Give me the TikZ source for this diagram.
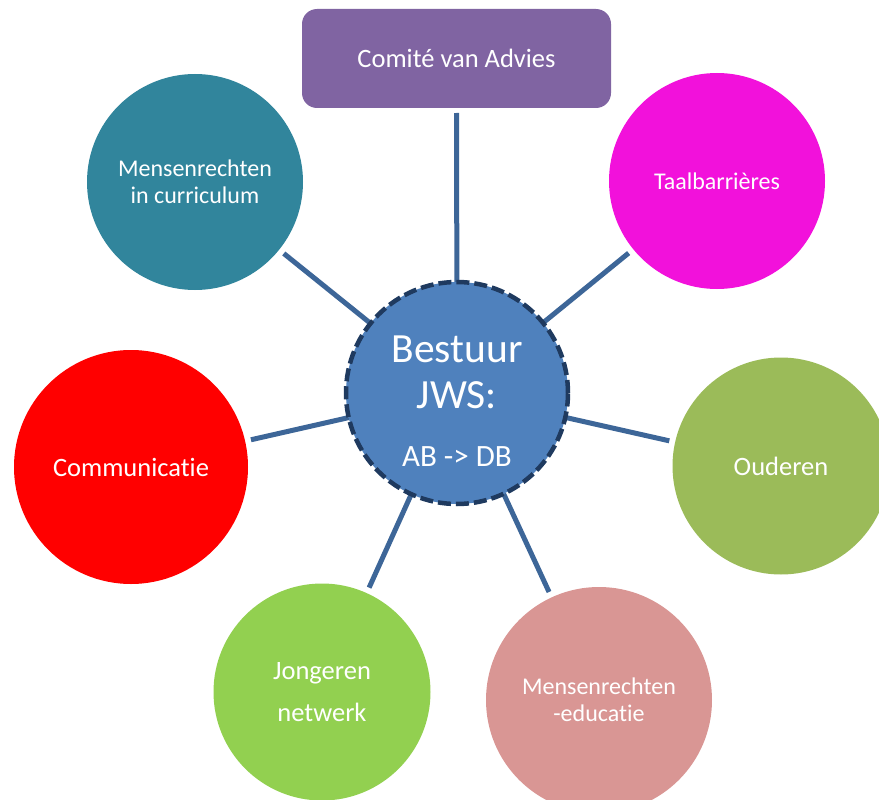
\documentclass[tikz,border=0pt]{standalone}
\usepackage{fontspec}
\setmainfont{Carlito}[Ligatures={NoCommon,NoRare,NoContextual}]
\usetikzlibrary{backgrounds}
\definecolor{comitec}{HTML}{8064A2}
\definecolor{curc}{HTML}{31859C}
\definecolor{taalc}{HTML}{F211DB}
\definecolor{commc}{HTML}{FF0000}
\definecolor{oudc}{HTML}{9BBB59}
\definecolor{jongc}{HTML}{92D050}
\definecolor{educ}{HTML}{D99694}
\definecolor{centc}{HTML}{4F81BD}
\definecolor{bordc}{HTML}{1F3A5F}
\definecolor{connc}{HTML}{3D6698}
\begin{document}
\begin{tikzpicture}[x=1pt,y=-1pt,
  sat/.style={circle,inner sep=0pt,outer sep=0pt,text=white,align=center},
  smallfont/.style={font=\fontsize{24}{27}\selectfont},
  bigfont/.style={font=\fontsize{26.5}{30}\selectfont},
  conn/.style={draw=connc,line width=5pt,shorten >=6pt},
  ctext/.style={anchor=base,text=white,inner sep=0pt}]
\useasboundingbox (0,0) rectangle (879,800);
\clip (0,0) rectangle (879,800);

\node[fill=comitec,rounded corners=15pt,minimum width=309pt,minimum height=99pt,
  outer sep=0pt,inner sep=0pt,text=white,font=\fontsize{26.5}{30}\selectfont]
  (adv) at (456.5,58.5) {Comité van Advies};

\node[sat,smallfont,fill=curc,minimum size=216pt] (cur) at (195,182) {Mensenrechten\\in curriculum};
\node[sat,smallfont,fill=taalc,minimum size=216pt] (taal) at (717,181) {Taalbarrières};
\node[sat,bigfont,fill=commc,minimum size=234pt] (comm) at (131,467) {Communicatie};
\node[sat,bigfont,fill=oudc,minimum size=217pt] (oud) at (781,466) {Ouderen};
\node[sat,bigfont,fill=jongc,minimum size=217pt] (jong) at (322,692) {Jongeren\\[12pt]netwerk};
\node[sat,smallfont,fill=educ,minimum size=226pt] (edu) at (599,700) {Mensenrechten\\-educatie};

\node[circle,fill=centc,draw=bordc,line width=4.5pt,dash pattern=on 13pt off 5pt,
  minimum size=222pt,outer sep=0pt,inner sep=0pt] (c) at (457,393) {};
\node[ctext,font=\fontsize{41.5}{46}\selectfont] (t1) at (457,362) {Bestuur};
\node[ctext,font=\fontsize{41.5}{46}\selectfont] (t2) at (457,408) {JWS:};
\node[ctext,font=\fontsize{31}{36}\selectfont] (t3) at (457,466) {AB -> DB};

\begin{pgfonlayer}{background}
\draw[conn,shorten >=5pt] (c) -- (adv);
\draw[conn] (c) -- (cur);
\draw[conn] (c) -- (taal);
\draw[conn] (c) -- (comm);
\draw[conn] (c) -- (oud);
\draw[conn] (c) -- (jong);
\draw[conn] (c) -- (edu);
\end{pgfonlayer}
\end{tikzpicture}
\end{document}
